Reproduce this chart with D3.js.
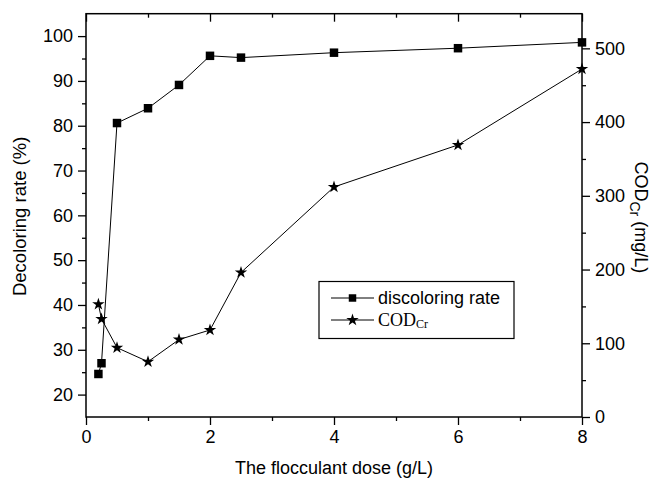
<!DOCTYPE html>
<html>
<head>
<meta charset="utf-8">
<script src="https://cdn.jsdelivr.net/npm/d3@7"></script>
<style>
  html, body { margin: 0; padding: 0; background: #fff; }
  svg { display: block; }
  text { font-family: "Liberation Sans", Arial, sans-serif; fill: #000; }
</style>
</head>
<body>
<svg id="chart" width="653" height="480"></svg>
<script>
// Flocculant dose (g/L)
const dose = [0.2, 0.25, 0.5, 1, 1.5, 2, 2.5, 4, 6, 8];
// Decoloring rate (%) — left axis
const decoloring = [24.6, 27.0, 80.6, 83.9, 89.1, 95.6, 95.2, 96.3, 97.3, 98.6];
// COD_Cr (mg/L) — right axis
const cod = [153, 133, 94, 75, 105, 118, 196, 312, 369, 472];

const xMajor = [0, 2, 4, 6, 8];
const xMinor = [1, 3, 5, 7];
const yLeftMajor = [20, 30, 40, 50, 60, 70, 80, 90, 100];
const yLeftMinor = [25, 35, 45, 55, 65, 75, 85, 95];
const yRightMajor = [0, 100, 200, 300, 400, 500];
const yRightMinor = [50, 150, 250, 350, 450];

const svg = d3.select("#chart");
const L = 86, R = 582, T = 13.7, B = 417;

const x = d3.scaleLinear().domain([0, 8]).range([L, R]);
const yL = d3.scaleLinear().domain([15, 105]).range([B, T]);
const yR = d3.scaleLinear().domain([0, 547]).range([B, T]);

const fs = 18;

function styleAxis(g) {
  g.select(".domain").remove();
  g.selectAll(".tick line").attr("stroke", "#000").attr("stroke-width", 1.3);
  g.selectAll(".tick text").attr("font-size", fs).attr("font-family", "Liberation Sans, Arial, sans-serif").attr("fill", "#000");
}

// bottom axis
svg.append("g").attr("transform", `translate(0,${B})`)
  .call(d3.axisBottom(x).tickValues(xMajor).tickSize(8).tickPadding(5).tickFormat(d3.format("d")))
  .call(styleAxis);
svg.append("g").attr("transform", `translate(0,${B})`)
  .call(d3.axisBottom(x).tickValues(xMinor).tickSize(4).tickFormat(""))
  .call(styleAxis);
// top axis (inward ticks)
svg.append("g").attr("transform", `translate(0,${T})`)
  .call(d3.axisTop(x).tickValues(xMajor).tickSize(-8).tickFormat(""))
  .call(styleAxis);
svg.append("g").attr("transform", `translate(0,${T})`)
  .call(d3.axisTop(x).tickValues(xMinor).tickSize(-4).tickFormat(""))
  .call(styleAxis);
// left axis
svg.append("g").attr("transform", `translate(${L},0)`)
  .call(d3.axisLeft(yL).tickValues(yLeftMajor).tickSize(8).tickPadding(5).tickFormat(d3.format("d")))
  .call(styleAxis);
svg.append("g").attr("transform", `translate(${L},0)`)
  .call(d3.axisLeft(yL).tickValues(yLeftMinor).tickSize(4).tickFormat(""))
  .call(styleAxis);
// right axis
svg.append("g").attr("transform", `translate(${R},0)`)
  .call(d3.axisRight(yR).tickValues(yRightMajor).tickSize(8).tickPadding(5).tickFormat(d3.format("d")))
  .call(styleAxis);
svg.append("g").attr("transform", `translate(${R},0)`)
  .call(d3.axisRight(yR).tickValues(yRightMinor).tickSize(4).tickFormat(""))
  .call(styleAxis);

// frame
svg.append("rect").attr("x", L).attr("y", T).attr("width", R - L).attr("height", B - T)
  .attr("fill", "none").attr("stroke", "#000").attr("stroke-width", 1.5);

// series lines
const decPts = dose.map((d, i) => [x(d), yL(decoloring[i])]);
const codPts = dose.map((d, i) => [x(d), yR(cod[i])]);
const line = d3.line();
svg.append("path").attr("d", line(decPts)).attr("fill", "none").attr("stroke", "#000").attr("stroke-width", 1);
svg.append("path").attr("d", line(codPts)).attr("fill", "none").attr("stroke", "#000").attr("stroke-width", 1);

const sq = d3.symbol().type(d3.symbolSquare).size(72);
const st = d3.symbol().type(d3.symbolStar).size(48);
svg.append("g").selectAll("path").data(decPts).join("path")
  .attr("d", sq).attr("transform", d => `translate(${d[0]},${d[1]})`).attr("fill", "#000");
svg.append("g").selectAll("path").data(codPts).join("path")
  .attr("d", st).attr("transform", d => `translate(${d[0]},${d[1]})`).attr("fill", "#000");

// axis titles
svg.append("text").attr("x", (L + R) / 2).attr("y", 474).attr("text-anchor", "middle")
  .attr("font-size", fs).text("The flocculant dose (g/L)");
svg.append("text").attr("transform", `translate(26,${(T + B) / 2 + 1}) rotate(-90)`)
  .attr("text-anchor", "middle").attr("font-size", 18.5).text("Decoloring rate (%)");
const rt = svg.append("text").attr("transform", `translate(635,${(T + B) / 2 + 2}) rotate(90)`)
  .attr("text-anchor", "middle").attr("font-size", fs);
rt.append("tspan").text("COD");
rt.append("tspan").attr("font-size", 14).attr("dy", 5).text("Cr");
rt.append("tspan").attr("dy", -5).text(" (mg/L)");

// legend
const lg = svg.append("g");
lg.append("rect").attr("x", 319).attr("y", 281.5).attr("width", 195).attr("height", 57)
  .attr("fill", "#fff").attr("stroke", "#000").attr("stroke-width", 1.2);
const rows = [
  { y: 298, sym: d3.symbol().type(d3.symbolSquare).size(56) },
  { y: 320, sym: d3.symbol().type(d3.symbolStar).size(48) }
];
rows.forEach(r => {
  lg.append("line").attr("x1", 331).attr("x2", 374).attr("y1", r.y).attr("y2", r.y)
    .attr("stroke", "#000").attr("stroke-width", 1);
  lg.append("path").attr("d", r.sym).attr("transform", `translate(352.5,${r.y})`).attr("fill", "#000");
});
lg.append("text").attr("x", 378).attr("y", 298).attr("dy", "0.35em").attr("font-size", fs)
  .text("discoloring rate");
const lt = lg.append("text").attr("x", 378).attr("y", 320).attr("dy", "0.35em")
  .attr("font-size", 18).style("font-family", "'Liberation Serif', 'Times New Roman', serif");
lt.append("tspan").text("COD");
lt.append("tspan").attr("font-size", 12).attr("dy", 2).text("Cr");
</script>
</body>
</html>
